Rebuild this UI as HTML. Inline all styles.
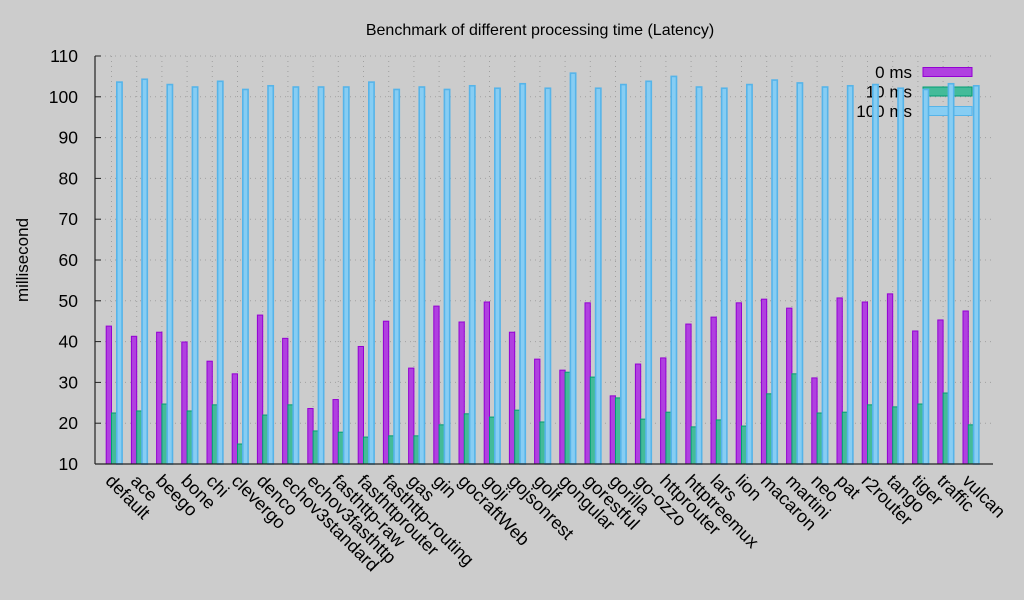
<!DOCTYPE html>
<html><head><meta charset="utf-8"><style>
html,body{margin:0;padding:0;background:#cccccc;}
svg{display:block;font-family:"Liberation Sans",sans-serif;}
</style></head><body>
<svg id="chart" width="1024" height="600" viewBox="0 0 1024 600" xmlns="http://www.w3.org/2000/svg">
<rect width="1024" height="600" fill="#cccccc"/>
<text x="540" y="35" font-size="16" text-anchor="middle">Benchmark of different processing time (Latency)</text>
<text transform="translate(28,260) rotate(-90)" font-size="17" text-anchor="middle">millisecond</text>
<g id="grid"></g>
<g id="legend"></g>
<g id="bars"></g>
<g id="axes"></g>
</svg>
<script>
const categories = ["default","ace","beego","bone","chi","clevergo","denco","echov3standard","echov3fasthttp","fasthttp-raw","fasthttprouter","fasthttp-routing","gas","gin","gocraftWeb","goji","gojsonrest","golf","gongular","gorestful","gorilla","go-ozzo","httprouter","httptreemux","lars","lion","macaron","martini","neo","pat","r2router","tango","tiger","traffic","vulcan"];
const series0ms = [43.8,41.3,42.3,39.9,35.2,32.1,46.5,40.8,23.6,25.8,38.8,45.0,33.5,48.7,44.8,49.7,42.3,35.7,33.0,49.5,26.7,34.5,36.0,44.3,46.0,49.5,50.4,48.2,31.1,50.7,49.7,51.7,42.6,45.3,47.5];
const series10ms = [22.5,23.0,24.7,23.0,24.5,14.9,22.0,24.5,18.1,17.8,16.6,16.9,16.9,19.6,22.3,21.5,23.2,20.3,32.5,31.3,26.2,21.0,22.7,19.1,20.8,19.3,27.2,32.1,22.5,22.7,24.5,24.0,24.7,27.4,19.6];
const series100ms = [103.6,104.3,103.0,102.4,103.8,101.8,102.7,102.4,102.4,102.4,103.6,101.8,102.4,101.8,102.7,102.1,103.2,102.1,105.8,102.1,103.0,103.8,105.0,102.4,102.1,103.0,104.1,103.4,102.4,102.7,103.0,102.1,101.8,103.2,102.7];
const seriesNames = ["0 ms","10 ms","100 ms"];
const yTicks = [10,20,30,40,50,60,70,80,90,100,110];

const NS="http://www.w3.org/2000/svg";
const L=95,R=993,T=56,B=464,YMIN=10,YMAX=110;
const y=v=>B-(v-YMIN)/(YMAX-YMIN)*(B-T);
const x=i=>111.5+25.2*i;
const BW=5.3;
const fills=["#b040e0","#44bb99","#87cdf3"];
const strokes=["#9400d3","#009e73","#56b4e9"];
const sw=[1,1,1.6];
function mk(tag,attrs,parent){const e=document.createElementNS(NS,tag);for(const k in attrs)e.setAttribute(k,attrs[k]);parent.appendChild(e);return e;}
const grid=document.getElementById('grid'),bars=document.getElementById('bars'),axes=document.getElementById('axes'),legend=document.getElementById('legend');
yTicks.forEach(t=>{
  const g=mk('line',{x1:L,x2:R,y1:y(t),y2:y(t),stroke:'#a0a0a0','stroke-dasharray':'1,4'},grid);
  
  
  const tk=mk('line',{x1:L,x2:L+6,y1:y(t),y2:y(t),stroke:'#222'},axes);
  
  
  const lb=mk('text',{x:L-17,y:y(t)+6,'font-size':17.5,'text-anchor':'end'},axes);
  lb.textContent=t;
  
  
});
categories.forEach((c,i)=>{
  const g=mk('line',{x1:x(i),x2:x(i),y1:T,y2:B,stroke:'#a0a0a0','stroke-dasharray':'1,4'},grid);
  
  
  const lb=mk('text',{transform:`translate(${x(i)-7},${B+18}) rotate(45)`,'font-size':18},axes);
  lb.textContent=c;
  
  
});
seriesNames.forEach((n,k)=>{
  const ly=72+k*19.5;
  const t=mk('text',{x:912,y:ly+6,'font-size':17,'text-anchor':'end'},legend);
  t.textContent=n;
  
  
  const r=mk('rect',{x:923,y:ly-4.5,width:49,height:9,fill:fills[k],stroke:strokes[k],'stroke-width':1},legend);
  
  
});
const all=[series0ms,series10ms,series100ms];
categories.forEach((c,i)=>{
  all.forEach((s,k)=>{
    const bx=x(i)-BW+k*BW;
    const r=mk('rect',{x:bx,y:y(s[i]),width:BW,height:B-y(s[i]),fill:fills[k],stroke:strokes[k],'stroke-width':sw[k]},bars);
    
    
  });
});
const ax1=mk('line',{x1:L,x2:R,y1:B,y2:B,stroke:'#222','stroke-width':1.2},axes);


const ax2=mk('line',{x1:L,x2:L,y1:T,y2:B,stroke:'#222','stroke-width':1.2},axes);


</script>
</body></html>
